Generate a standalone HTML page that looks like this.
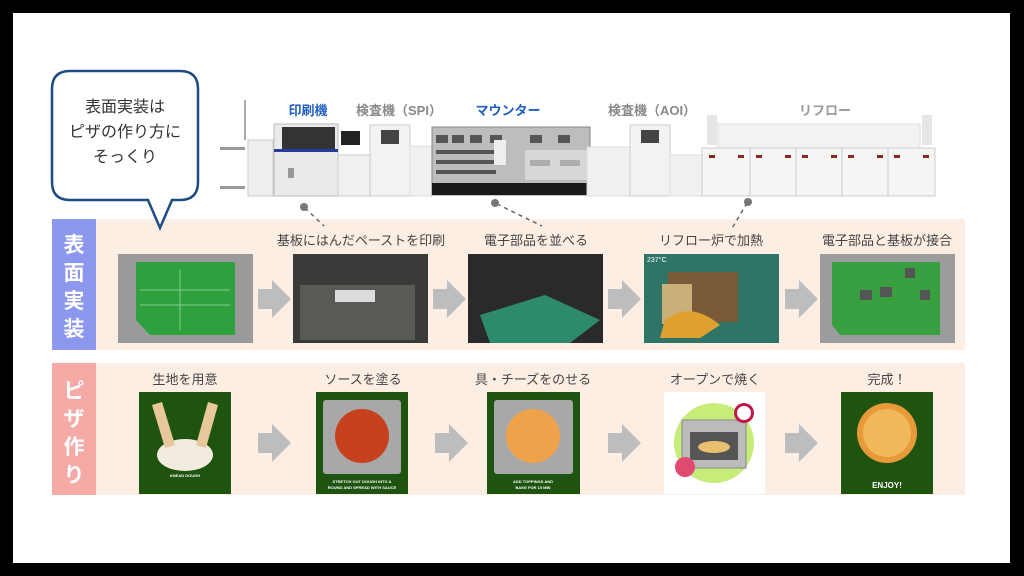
<!DOCTYPE html>
<html><head><meta charset="utf-8"><style>
html,body{margin:0;padding:0;background:#000;}
svg{display:block;}
text{font-family:"Liberation Sans","Noto Sans CJK JP",sans-serif;}
</style></head><body>
<svg width="1024" height="576" viewBox="0 0 1024 576" xmlns="http://www.w3.org/2000/svg">
<rect x="0" y="0" width="1024" height="576" fill="#000"/>
<rect x="13" y="13" width="997" height="550" fill="#fff"/>

<!-- machines -->
<g>
<line x1="245" y1="100" x2="245" y2="140" stroke="#aaa" stroke-width="2"/>
<rect x="220" y="147" width="25" height="3" fill="#999"/>
<rect x="220" y="186" width="25" height="3" fill="#999"/>
<rect x="248" y="140" width="25" height="56" fill="#eee" stroke="#ccc"/>
<rect x="274" y="124" width="64" height="72" fill="#eaeaea" stroke="#bbb"/>
<rect x="282" y="127" width="53" height="22" fill="#333"/>
<rect x="274" y="149" width="64" height="3" fill="#2a3a9a"/>
<rect x="288" y="168" width="6" height="10" fill="#999"/>
<rect x="341" y="131" width="19" height="14" fill="#222"/>
<rect x="338" y="155" width="32" height="41" fill="#f0f0f0" stroke="#ccc"/>
<rect x="370" y="125" width="40" height="71" fill="#f2f2f2" stroke="#ccc"/>
<rect x="381" y="130" width="18" height="14" fill="#444"/>
<rect x="410" y="146" width="22" height="50" fill="#f0f0f0" stroke="#ddd"/>
<rect x="432" y="127" width="158" height="68" fill="#bdbdbd" stroke="#888"/>
<g fill="#555">
<rect x="436" y="135" width="12" height="8"/><rect x="452" y="135" width="12" height="8"/><rect x="470" y="135" width="12" height="8"/><rect x="490" y="135" width="12" height="8"/><rect x="530" y="135" width="12" height="8"/><rect x="558" y="135" width="12" height="8"/>
<rect x="436" y="150" width="60" height="4"/><rect x="436" y="160" width="60" height="4"/><rect x="436" y="170" width="60" height="4"/>
<rect x="530" y="160" width="20" height="6"/><rect x="560" y="160" width="20" height="6"/>
</g>
<rect x="494" y="140" width="12" height="25" fill="#eee"/>
<rect x="525" y="150" width="62" height="30" fill="#e8e8e8" opacity=".6"/>
<rect x="432" y="183" width="158" height="12" fill="#1a1a1a"/>
<rect x="587" y="147" width="43" height="49" fill="#f0f0f0" stroke="#ddd"/>
<rect x="630" y="125" width="40" height="71" fill="#f2f2f2" stroke="#ccc"/>
<rect x="641" y="130" width="18" height="13" fill="#444"/>
<rect x="670" y="155" width="32" height="41" fill="#f0f0f0" stroke="#ddd"/>
<rect x="718" y="124" width="202" height="25" fill="#f3f3f3" stroke="#ddd"/>
<rect x="702" y="148" width="233" height="48" fill="#f5f5f5" stroke="#ccc"/>
<g stroke="#ccc"><line x1="750" y1="148" x2="750" y2="196"/><line x1="796" y1="148" x2="796" y2="196"/><line x1="842" y1="148" x2="842" y2="196"/><line x1="888" y1="148" x2="888" y2="196"/></g>
<g fill="#8a2a1a"><rect x="709" y="155" width="6" height="3"/><rect x="738" y="155" width="6" height="3"/><rect x="756" y="155" width="6" height="3"/><rect x="785" y="155" width="6" height="3"/><rect x="802" y="155" width="6" height="3"/><rect x="831" y="155" width="6" height="3"/><rect x="848" y="155" width="6" height="3"/><rect x="877" y="155" width="6" height="3"/><rect x="894" y="155" width="6" height="3"/><rect x="923" y="155" width="6" height="3"/></g>
<rect x="707" y="115" width="10" height="30" fill="#e6e6e6"/>
<rect x="922" y="115" width="10" height="30" fill="#e6e6e6"/>
</g>
<text x="308" y="115" font-size="13" font-weight="bold" fill="#1f5fc0" text-anchor="middle">印刷機</text>
<text x="399" y="115" font-size="13" font-weight="bold" fill="#888" text-anchor="middle">検査機（SPI）</text>
<text x="508" y="115" font-size="13" font-weight="bold" fill="#1f5fc0" text-anchor="middle">マウンター</text>
<text x="652" y="115" font-size="13" font-weight="bold" fill="#888" text-anchor="middle">検査機（AOI）</text>
<text x="825" y="115" font-size="13" font-weight="bold" fill="#999" text-anchor="middle">リフロー</text>

<!-- bands -->
<rect x="96" y="219" width="869" height="131" fill="#fdeee4"/>
<rect x="52" y="219" width="44" height="131" fill="#8c98ee"/>
<text x="74" y="252" font-size="21" font-weight="bold" fill="#fff" text-anchor="middle">表</text>
<text x="74" y="280" font-size="21" font-weight="bold" fill="#fff" text-anchor="middle">面</text>
<text x="74" y="308" font-size="21" font-weight="bold" fill="#fff" text-anchor="middle">実</text>
<text x="74" y="336" font-size="21" font-weight="bold" fill="#fff" text-anchor="middle">装</text>
<rect x="96" y="363" width="869" height="132" fill="#fdeee4"/>
<rect x="52" y="363" width="44" height="132" fill="#f6aaa6"/>
<text x="74" y="398" font-size="21" font-weight="bold" fill="#fff" text-anchor="middle">ピ</text>
<text x="74" y="426" font-size="21" font-weight="bold" fill="#fff" text-anchor="middle">ザ</text>
<text x="74" y="454" font-size="21" font-weight="bold" fill="#fff" text-anchor="middle">作</text>
<text x="74" y="482" font-size="21" font-weight="bold" fill="#fff" text-anchor="middle">り</text>

<!-- connectors -->
<g stroke="#666" stroke-width="1.5" stroke-dasharray="4,4" fill="none">
<line x1="305" y1="208" x2="324" y2="226"/>
<line x1="497" y1="204" x2="542" y2="226"/>
<line x1="747" y1="203" x2="731" y2="230"/>
</g>
<g fill="#777"><circle cx="304" cy="207" r="4"/><circle cx="495" cy="203" r="4"/><circle cx="748" cy="202" r="4"/></g>

<!-- bubble -->
<path d="M70 71 H180 Q198 71 198 89 V182 Q198 200 180 200 H172 L160 228 L148 200 H70 Q52 200 52 182 V89 Q52 71 70 71 Z" fill="#fff" stroke="#1e4a86" stroke-width="2.5"/>
<text x="125" y="112" font-size="16" fill="#333" text-anchor="middle">表面実装は</text>
<text x="125" y="137" font-size="16" fill="#333" text-anchor="middle">ピザの作り方に</text>
<text x="125" y="162" font-size="16" fill="#333" text-anchor="middle">そっくり</text>

<!-- row1 labels -->
<g font-size="13" fill="#444" text-anchor="middle">
<text x="361" y="245">基板にはんだペーストを印刷</text>
<text x="536" y="245">電子部品を並べる</text>
<text x="711" y="245">リフロー炉で加熱</text>
<text x="887" y="245">電子部品と基板が接合</text>
</g>
<!-- row1 images -->
<rect x="118" y="254" width="135" height="89" fill="#9a9a9a"/>
<path d="M136 262 H235 V335 H150 L136 320 Z" fill="#2ea13e"/>
<g stroke="#bfe8bf" stroke-width="1" opacity=".6"><line x1="180" y1="270" x2="180" y2="330"/><line x1="140" y1="290" x2="230" y2="290"/><line x1="140" y1="305" x2="230" y2="305"/></g>
<rect x="293" y="254" width="135" height="89" fill="#3a3a38"/>
<rect x="300" y="285" width="115" height="55" fill="#5a5a55"/>
<rect x="335" y="290" width="40" height="12" fill="#ddd"/>
<rect x="468" y="254" width="135" height="89" fill="#2a2a2a"/>
<path d="M480 315 L545 295 L600 320 L570 343 H490 Z" fill="#2d8a6a"/>
<rect x="644" y="254" width="135" height="89" fill="#2e7568"/>
<rect x="668" y="272" width="70" height="50" fill="#7b5a3a"/>
<rect x="662" y="284" width="30" height="40" fill="#c9b07a"/>
<path d="M665 320 Q690 300 720 325 L700 338 H660 Z" fill="#e0a030"/>
<text x="647" y="262" font-size="7" fill="#fff">237°C</text>
<rect x="820" y="254" width="135" height="89" fill="#9c9c9c"/>
<path d="M832 262 H940 V335 H840 L832 325 Z" fill="#38a040"/>
<g fill="#555"><rect x="860" y="290" width="12" height="10"/><rect x="880" y="287" width="12" height="10"/><rect x="905" y="268" width="10" height="10"/><rect x="920" y="290" width="10" height="10"/></g>

<!-- arrows -->
<g fill="#bdbdbd">
<path d="M258 289 H272 V280 L291 299 L272 318 V309 H258 Z"/>
<path d="M433 289 H447 V280 L466 299 L447 318 V309 H433 Z"/>
<path d="M608 289 H622 V280 L641 299 L622 318 V309 H608 Z"/>
<path d="M785 289 H799 V280 L818 299 L799 318 V309 H785 Z"/>
<path d="M258 433 H272 V424 L291 443 L272 462 V453 H258 Z"/>
<path d="M435 433 H449 V424 L468 443 L449 462 V453 H435 Z"/>
<path d="M608 433 H622 V424 L641 443 L622 462 V453 H608 Z"/>
<path d="M785 433 H799 V424 L818 443 L799 462 V453 H785 Z"/>
</g>

<!-- row2 labels -->
<g font-size="13" fill="#444" text-anchor="middle">
<text x="185" y="384">生地を用意</text>
<text x="363" y="384">ソースを塗る</text>
<text x="533" y="384">具・チーズをのせる</text>
<text x="715" y="384">オープンで焼く</text>
<text x="887" y="384">完成！</text>
</g>
<!-- row2 images -->
<rect x="139" y="392" width="92" height="102" fill="#1e5410"/>
<ellipse cx="185" cy="455" rx="28" ry="16" fill="#f2ece0"/>
<path d="M152 405 L162 402 L175 445 L165 448 Z M218 405 L208 402 L196 445 L206 448 Z" fill="#e8c89a"/>
<text x="185" y="477" font-size="4" fill="#fff" text-anchor="middle" font-weight="bold">KNEAD DOUGH</text>
<rect x="316" y="392" width="92" height="102" fill="#1e5410"/>
<rect x="323" y="400" width="78" height="74" rx="3" fill="#a8a8a8"/>
<circle cx="362" cy="436" r="27" fill="#c8411e"/>
<text x="362" y="483" font-size="4" fill="#fff" text-anchor="middle" font-weight="bold">STRETCH OUT DOUGH INTO A</text>
<text x="362" y="489" font-size="4" fill="#fff" text-anchor="middle" font-weight="bold">ROUND AND SPREAD WITH SAUCE</text>
<rect x="487" y="392" width="93" height="102" fill="#1e5410"/>
<rect x="494" y="400" width="79" height="74" rx="3" fill="#a8a8a8"/>
<circle cx="533" cy="436" r="27" fill="#eea34a"/>
<text x="533" y="483" font-size="4" fill="#fff" text-anchor="middle" font-weight="bold">ADD TOPPINGS AND</text>
<text x="533" y="489" font-size="4" fill="#fff" text-anchor="middle" font-weight="bold">BAKE FOR 15 MIN</text>
<rect x="664" y="392" width="101" height="102" fill="#fff"/>
<circle cx="714" cy="443" r="40" fill="#c8ec7a"/>
<rect x="682" y="420" width="64" height="48" fill="#bbb" stroke="#888"/>
<rect x="690" y="432" width="48" height="28" fill="#555"/>
<ellipse cx="714" cy="447" rx="16" ry="6" fill="#e8c070"/>
<circle cx="744" cy="413" r="10" fill="#c0184a"/><circle cx="744" cy="413" r="7" fill="#fff"/>
<circle cx="685" cy="467" r="10" fill="#e04a70"/>
<rect x="841" y="392" width="92" height="102" fill="#1e5410"/>
<circle cx="887" cy="433" r="30" fill="#e89a3a"/>
<circle cx="887" cy="433" r="24" fill="#f0b858"/>
<text x="887" y="488" font-size="8" fill="#fff" text-anchor="middle" font-weight="bold">ENJOY!</text>
</svg>
</body></html>
